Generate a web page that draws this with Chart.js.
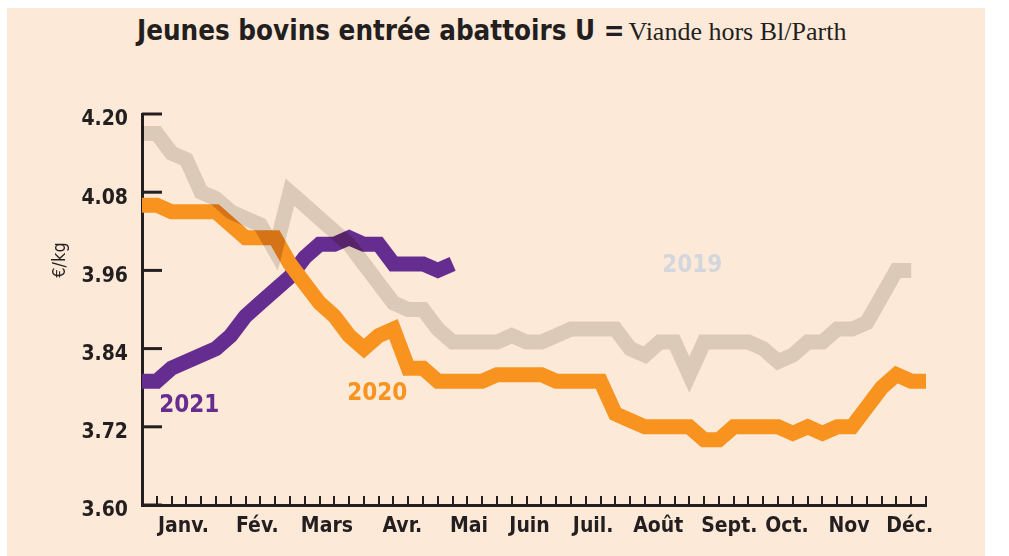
<!DOCTYPE html>
<html>
<head>
<meta charset="utf-8">
<script src="https://cdn.jsdelivr.net/npm/chart.js"></script>
<style>
    body {
        margin: 0;
        background: #fff;
    }
    #wrap {
        position: relative;
        width: 1009px;
        height: 556px;
        overflow: hidden;
    }
    .panel {
        position: absolute;
        left: 7px;
        top: 8px;
        width: 978px;
        height: 548px;
        background: #fde9d8;
    }
    .titre {
        position: absolute;
        left: 137px;
        top: 14px;
        white-space: nowrap;
        color: #231f20;
    }
    .titre b {
        font-family: "DejaVu Sans Condensed", "Liberation Sans Narrow", sans-serif;
        font-size: 27.5px;
        font-weight: bold;
    }
    .titre span {
        font-family: "Liberation Serif", serif;
        font-size: 26px;
    }
    #box {
        position: absolute;
        left: 0;
        top: 0;
        width: 1009px;
        height: 556px;
    }
</style>
</head>
<body>
<div id="wrap">
    <div class="panel"></div>
    <div class="titre"><b>Jeunes bovins entrée abattoirs U =</b> <span>Viande hors Bl/Parth</span></div>
    <div id="box"><canvas id="graph"></canvas></div>
</div>

<script>
    // libellés des mois et leur position (en semaines)
    let mois = ['Janv.', 'Fév.', 'Mars', 'Avr.', 'Mai', 'Juin', 'Juil.', 'Août', 'Sept.', 'Oct.', 'Nov', 'Déc.'];
    let moisPos = [2.8, 7.8, 12.5, 17.6, 22.1, 26.2, 30.5, 34.9, 39.7, 43.6, 47.8, 51.9];
    let yTicks = [3.60, 3.72, 3.84, 3.96, 4.08, 4.20];

    // prix hebdomadaires €/kg
    let prix2019 = [4.17, 4.17, 4.14, 4.13, 4.08, 4.07, 4.05, 4.04, 4.03, 3.99,
                    4.08, 4.06, 4.04, 4.02, 4.00, 3.97, 3.94, 3.91, 3.90, 3.90,
                    3.87, 3.85, 3.85, 3.85, 3.85, 3.86, 3.85, 3.85, 3.86, 3.87,
                    3.87, 3.87, 3.87, 3.84, 3.83, 3.85, 3.85, 3.80, 3.85, 3.85,
                    3.85, 3.85, 3.84, 3.82, 3.83, 3.85, 3.85, 3.87, 3.87, 3.88,
                    3.92, 3.96, 3.96];
    let prix2020 = [4.06, 4.06, 4.05, 4.05, 4.05, 4.05, 4.03, 4.01, 4.01, 4.01,
                    3.97, 3.94, 3.91, 3.89, 3.86, 3.84, 3.86, 3.87, 3.81, 3.81,
                    3.79, 3.79, 3.79, 3.79, 3.80, 3.80, 3.80, 3.80, 3.79, 3.79,
                    3.79, 3.79, 3.74, 3.73, 3.72, 3.72, 3.72, 3.72, 3.70, 3.70,
                    3.72, 3.72, 3.72, 3.72, 3.71, 3.72, 3.71, 3.72, 3.72, 3.75,
                    3.78, 3.80, 3.79, 3.79];
    let prix2021 = [3.79, 3.79, 3.81, 3.82, 3.83, 3.84, 3.86, 3.89, 3.91, 3.93,
                    3.95, 3.98, 4.00, 4.00, 4.01, 4.00, 4.00, 3.97, 3.97, 3.97,
                    3.96, 3.97];

    let annees = ['2019', '2020', '2021'];
    let couleurs = ['#dccab8', '#f7931e', '#662d91'];
    let couleursTexte = ['#d3d6dc', '#f7931e', '#662d91'];
    // où écrire l'année (semaine, prix)
    let etiquettes = [[37.2, 3.967], [15.9, 3.77], [3.2, 3.753]];

    let police = '"DejaVu Sans Condensed", "Liberation Sans Narrow", sans-serif';
    let noir = '#231f20';

    function points(arr) {
        return arr.map((v, i) => ({ x: i, y: v }));
    }

    let decor = {
        id: 'decor',
        beforeDatasetsDraw(chart) {
            let ctx = chart.ctx;
            let x = chart.scales.x;
            let y = chart.scales.y;
            let a = chart.chartArea;
            ctx.save();
            ctx.strokeStyle = noir;
            ctx.lineWidth = 2;
            for (let i = 1; i <= 53; i++) {
                let px = Math.round(x.getPixelForValue(i));
                ctx.beginPath();
                ctx.moveTo(px, a.bottom);
                ctx.lineTo(px, a.bottom - 9);
                ctx.stroke();
            }
            ctx.lineWidth = 3;
            yTicks.forEach(v => {
                let py = y.getPixelForValue(v);
                ctx.beginPath();
                ctx.moveTo(a.left, py);
                ctx.lineTo(a.left + 20, py);
                ctx.stroke();
            });
            ctx.translate(60, 260);
            ctx.rotate(-Math.PI / 2);
            ctx.font = '18px ' + police;
            ctx.fillStyle = noir;
            ctx.textAlign = 'center';
            ctx.textBaseline = 'middle';
            ctx.fillText('€/kg', 0, 0);
            ctx.restore();
        },
        // 2019 en « produit » par-dessus les autres courbes
        beforeDatasetDraw(chart, args) {
            chart.ctx.save();
            if (args.index === 0) chart.ctx.globalCompositeOperation = 'multiply';
        },
        afterDatasetDraw(chart) {
            chart.ctx.restore();
        },
        afterDatasetsDraw(chart) {
            let ctx = chart.ctx;
            ctx.save();
            ctx.font = 'bold 24px ' + police;
            ctx.textAlign = 'center';
            ctx.textBaseline = 'middle';
            annees.forEach((an, i) => {
                ctx.fillStyle = couleursTexte[i];
                ctx.fillText(an, chart.scales.x.getPixelForValue(etiquettes[i][0]),
                                 chart.scales.y.getPixelForValue(etiquettes[i][1]));
            });
            ctx.restore();
        }
    };

    let serie = [prix2019, prix2020, prix2021];

    new Chart(document.getElementById('graph'), {
        type: 'line',
        data: {
            datasets: serie.map((d, i) => ({
                label: annees[i],
                data: points(d),
                borderColor: couleurs[i],
                borderWidth: 15,
                pointRadius: 0,
                tension: 0,
                fill: false
            }))
        },
        options: {
            responsive: true,
            maintainAspectRatio: false,
            animation: false,
            layout: { padding: { top: 114, right: 83, left: 0, bottom: 0 } },
            plugins: {
                legend: { display: false },
                tooltip: { enabled: false }
            },
            scales: {
                x: {
                    type: 'linear',
                    min: 0,
                    max: 53,
                    afterBuildTicks: s => { s.ticks = moisPos.map(v => ({ value: v })); },
                    afterFit: s => { s.height = 51; },
                    ticks: {
                        callback: (v, i) => mois[i],
                        autoSkip: false,
                        maxRotation: 0,
                        padding: 9,
                        color: noir,
                        font: { family: police, size: 21, weight: 'bold' }
                    },
                    grid: { display: false, drawTicks: false },
                    border: { display: true, color: noir, width: 3 }
                },
                y: {
                    min: 3.60,
                    max: 4.20,
                    afterBuildTicks: s => { s.ticks = yTicks.map(v => ({ value: v })); },
                    afterFit: s => { s.width = 142; },
                    ticks: {
                        callback: v => v.toFixed(2),
                        padding: 14,
                        labelOffset: 6,
                        color: noir,
                        font: { family: police, size: 21, weight: 'bold' }
                    },
                    grid: { display: false, drawTicks: false },
                    border: { display: true, color: noir, width: 3 }
                }
            }
        },
        plugins: [decor]
    });
</script>
</body>
</html>
